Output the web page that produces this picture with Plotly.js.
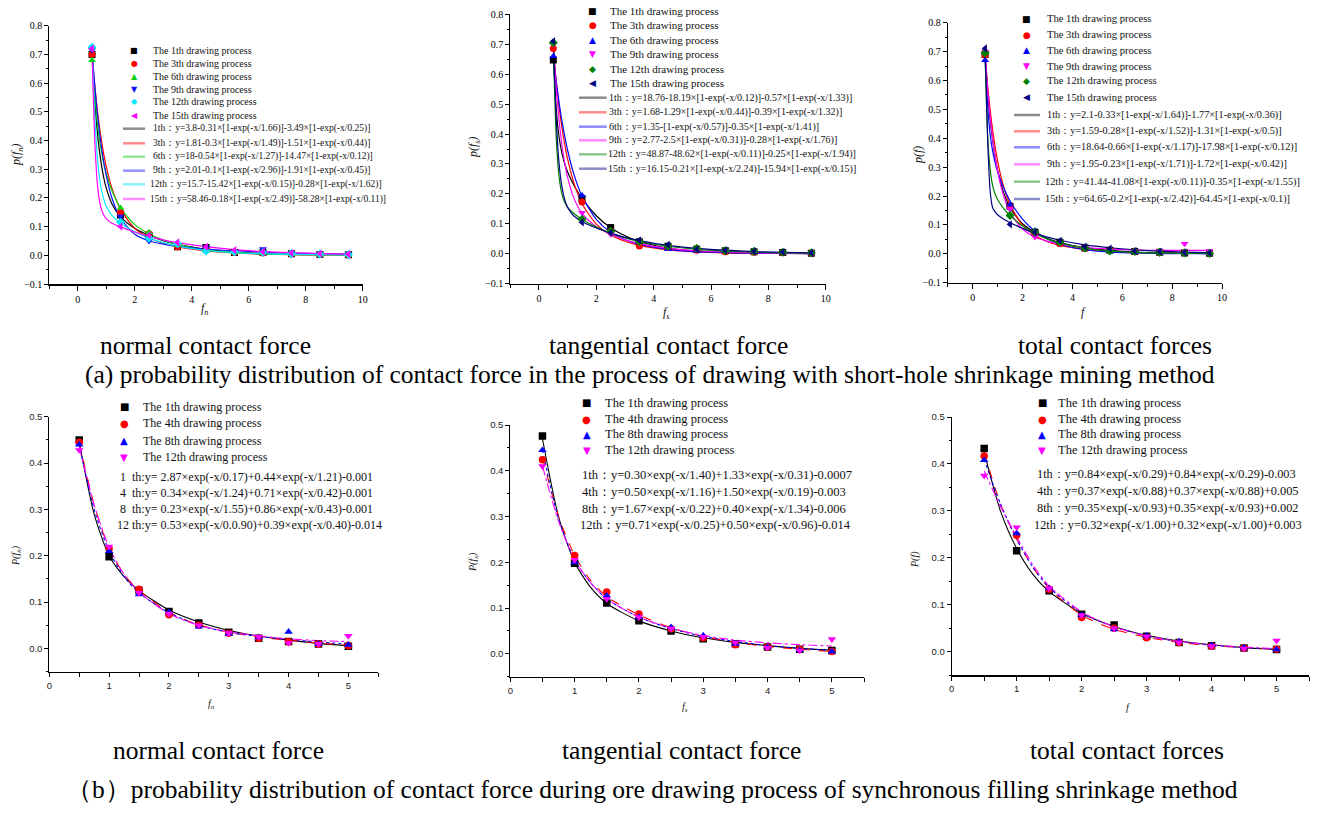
<!DOCTYPE html>
<html>
<head>
<meta charset="utf-8">
<script src="https://cdn.plot.ly/plotly-3.0.1.min.js"></script>
<style>html,body{margin:0;padding:0;background:#fff;}#chart{width:1332px;height:814px;}</style>
</head>
<body>
<div id="chart"></div>
<script>
// ---------------- DATA ----------------
// (a) short-hole shrinkage mining method: x = contact force bins
const XA = [0.5,1.5,2.5,3.5,4.5,5.5,6.5,7.5,8.5,9.5];
const CXA = [0.5,0.6,0.7,0.8,0.9,1.0,1.2,1.5,2.0,2.5,3.0,3.5,4.5,5.5,6.5,7.5,8.5,9.5];
const LABELS_A = ["1th","3th","6th","9th","12th","15th"];

// normal contact force (a)
const NA_1  = [0.70,0.14,0.07,0.03,0.027,0.01,0.01,0.005,0.003,0.002];
const NA_3  = [0.70,0.15,0.075,0.03,0.02,0.01,0.008,0.005,0.003,0.002];
const NA_6  = [0.68,0.165,0.08,0.035,0.015,0.01,0.008,0.004,0.002,0.001];
const NA_9  = [0.715,0.135,0.05,0.035,0.025,0.012,0.022,0.006,0.004,0.003];
const NA_12 = [0.725,0.115,0.06,0.04,0.015,0.012,0.01,0.006,0.004,0.003];
const NA_15 = [0.72,0.10,0.07,0.045,0.03,0.018,0.012,0.008,0.006,0.004];
const NAF_1  = [0.702,0.533,0.416,0.334,0.276,0.234,0.179,0.134,0.094,0.069,0.051,0.038,0.021,0.011,0.006,0.003,0.002,0.001];
const NAF_3  = [0.699,0.587,0.495,0.420,0.359,0.309,0.233,0.160,0.094,0.061,0.042,0.029,0.015,0.008,0.004,0.002,0.001,0.001];
const NAF_6  = [0.68,0.55,0.45,0.38,0.325,0.285,0.225,0.165,0.107,0.075,0.053,0.038,0.019,0.010,0.005,0.003,0.002,0.001];
const NAF_9  = [0.713,0.585,0.482,0.399,0.332,0.278,0.199,0.129,0.073,0.050,0.039,0.031,0.022,0.016,0.011,0.008,0.006,0.004];
const NAF_12 = [0.725,0.476,0.327,0.245,0.199,0.171,0.139,0.112,0.082,0.060,0.044,0.032,0.017,0.009,0.005,0.003,0.002,0.001];
const NAF_15 = [0.72,0.391,0.236,0.171,0.142,0.127,0.112,0.099,0.081,0.066,0.054,0.044,0.030,0.020,0.013,0.009,0.006,0.004];
const NA_EQ = [
  "1th：y=3.8-0.31×[1-exp(-x/1.66)]-3.49×[1-exp(-x/0.25)]",
  "3th：y=1.81-0.3×[1-exp(-x/1.49)]-1.51×[1-exp(-x/0.44)]",
  "6th：y=18-0.54×[1-exp(-x/1.27)]-14.47×[1-exp(-x/0.12)]",
  "9th：y=2.01-0.1×[1-exp(-x/2.96)]-1.91×[1-exp(-x/0.45)]",
  "12th：y=15.7-15.42×[1-exp(-x/0.15)]-0.28×[1-exp(-x/1.62)]",
  "15th：y=58.46-0.18×[1-exp(-x/2.49)]-58.28×[1-exp(-x/0.11)]"];

// tangential contact force (a)
const TA_1  = [0.647,0.185,0.088,0.04,0.025,0.015,0.01,0.007,0.004,0.002];
const TA_3  = [0.686,0.173,0.075,0.026,0.02,0.012,0.007,0.005,0.003,0.002];
const TA_6  = [0.66,0.195,0.075,0.04,0.015,0.01,0.008,0.005,0.003,0.002];
const TA_9  = [0.70,0.137,0.065,0.035,0.02,0.012,0.008,0.005,0.004,0.003];
const TA_12 = [0.705,0.115,0.075,0.04,0.025,0.018,0.01,0.008,0.005,0.003];
const TA_15 = [0.71,0.105,0.07,0.045,0.03,0.015,0.012,0.008,0.006,0.003];
const TAF_1  = [0.66,0.486,0.390,0.336,0.300,0.273,0.232,0.185,0.127,0.087,0.060,0.041,0.019,0.009,0.004,0.002,0.001,0.001];
const TAF_3  = [0.681,0.578,0.492,0.422,0.364,0.316,0.242,0.168,0.099,0.063,0.042,0.028,0.013,0.006,0.003,0.001,0.001,0.000];
const TAF_6  = [0.661,0.578,0.506,0.444,0.391,0.345,0.271,0.193,0.115,0.072,0.047,0.032,0.015,0.007,0.004,0.002,0.001,0.000];
const TAF_9  = [0.70,0.555,0.447,0.364,0.302,0.255,0.19,0.135,0.09,0.065,0.047,0.034,0.018,0.010,0.006,0.003,0.002,0.001];
const TAF_12 = [0.705,0.391,0.258,0.199,0.171,0.155,0.136,0.115,0.089,0.069,0.053,0.041,0.025,0.015,0.009,0.005,0.003,0.002];
const TAF_15 = [0.71,0.453,0.303,0.224,0.180,0.155,0.128,0.108,0.086,0.069,0.055,0.044,0.028,0.018,0.012,0.007,0.005,0.003];
const TA_EQ = [
  "1th：y=18.76-18.19×[1-exp(-x/0.12)]-0.57×[1-exp(-x/1.33)]",
  "3th：y=1.68-1.29×[1-exp(-x/0.44)]-0.39×[1-exp(-x/1.32)]",
  "6th：y=1.35-[1-exp(-x/0.57)]-0.35×[1-exp(-x/1.41)]",
  "9th：y=2.77-2.5×[1-exp(-x/0.31)]-0.28×[1-exp(-x/1.76)]",
  "12th：y=48.87-48.62×[1-exp(-x/0.11)]-0.25×[1-exp(-x/1.94)]",
  "15th：y=16.15-0.21×[1-exp(-x/2.24)]-15.94×[1-exp(-x/0.15)]"];

// total contact forces (a)
const TT_1  = [0.69,0.165,0.075,0.04,0.02,0.012,0.008,0.005,0.003,0.002];
const TT_3  = [0.688,0.165,0.07,0.035,0.02,0.012,0.008,0.005,0.003,0.002];
const TT_6  = [0.67,0.17,0.08,0.04,0.02,0.01,0.006,0.004,0.002,0.001];
const TT_9  = [0.70,0.155,0.058,0.035,0.02,0.012,0.01,0.01,0.035,0.01];
const TT_12 = [0.695,0.133,0.075,0.04,0.02,0.01,0.008,0.005,0.003,0.001];
const TT_15 = [0.711,0.102,0.075,0.045,0.025,0.018,0.01,0.008,0.005,0.003];
const TTF_1  = [0.685,0.563,0.469,0.395,0.336,0.290,0.222,0.160,0.104,0.074,0.053,0.039,0.021,0.012,0.006,0.003,0.002,0.001];
const TTF_3  = [0.683,0.583,0.500,0.430,0.372,0.322,0.246,0.170,0.099,0.063,0.042,0.029,0.015,0.008,0.004,0.002,0.001,0.001];
const TTF_6  = [0.67,0.516,0.415,0.356,0.316,0.285,0.237,0.183,0.120,0.078,0.051,0.033,0.014,0.006,0.003,0.001,0.001,0.000];
const TTF_9  = [0.695,0.574,0.478,0.400,0.338,0.287,0.213,0.144,0.086,0.058,0.043,0.033,0.022,0.016,0.013,0.012,0.012,0.012];
const TTF_12 = [0.69,0.413,0.294,0.237,0.207,0.188,0.162,0.133,0.096,0.070,0.051,0.037,0.019,0.010,0.005,0.003,0.002,0.001];
const TTF_15 = [0.71,0.40,0.22,0.16,0.145,0.135,0.122,0.108,0.088,0.071,0.058,0.047,0.031,0.021,0.014,0.009,0.006,0.004];
const TT_EQ = [
  "1th：y=2.1-0.33×[1-exp(-x/1.64)]-1.77×[1-exp(-x/0.36)]",
  "3th：y=1.59-0.28×[1-exp(-x/1.52)]-1.31×[1-exp(-x/0.5)]",
  "6th：y=18.64-0.66×[1-exp(-x/1.17)]-17.98×[1-exp(-x/0.12)]",
  "9th：y=1.95-0.23×[1-exp(-x/1.71)]-1.72×[1-exp(-x/0.42)]",
  "12th：y=41.44-41.08×[1-exp(-x/0.11)]-0.35×[1-exp(-x/1.55)]",
  "15th：y=64.65-0.2×[1-exp(-x/2.42)]-64.45×[1-exp(-x/0.1)]"];

// (b) synchronous filling shrinkage method
const XB = [0.5,1.0,1.5,2.0,2.5,3.0,3.5,4.0,4.5,5.0];
const CXB = [0.5,0.75,1.0,1.25,1.5,2.0,2.5,3.0,3.5,4.0,4.5,5.0];
const LABELS_B = ["1th","4th","8th","12th"];

const NB_1  = [0.45,0.198,0.125,0.08,0.055,0.035,0.022,0.015,0.01,0.005];
const NB_4  = [0.445,0.215,0.128,0.073,0.05,0.033,0.022,0.015,0.01,0.006];
const NB_8  = [0.44,0.21,0.117,0.078,0.047,0.032,0.024,0.036,0.01,0.008];
const NB_12 = [0.428,0.22,0.12,0.075,0.05,0.033,0.025,0.012,0.01,0.027];
const NBF_1  = [0.445,0.29,0.20,0.155,0.125,0.083,0.057,0.039,0.027,0.018,0.011,0.006];
const NBF_4  = [0.445,0.31,0.215,0.16,0.125,0.078,0.051,0.035,0.025,0.018,0.012,0.007];
const NBF_8  = [0.44,0.30,0.21,0.155,0.12,0.077,0.05,0.035,0.026,0.02,0.014,0.01];
const NBF_12 = [0.435,0.31,0.218,0.16,0.122,0.075,0.05,0.036,0.027,0.021,0.017,0.015];
const NB_EQ = [
  "1\u00a0\u00a0th:y= 2.87×exp(-x/0.17)+0.44×exp(-x/1.21)-0.001",
  "4\u00a0\u00a0th:y= 0.34×exp(-x/1.24)+0.71×exp(-x/0.42)-0.001",
  "8\u00a0\u00a0th:y= 0.23×exp(-x/1.55)+0.86×exp(-x/0.43)-0.001",
  "12 th:y= 0.53×exp(-x/0.0.90)+0.39×exp(-x/0.40)-0.014"];

const SB_1  = [0.476,0.198,0.111,0.072,0.05,0.033,0.022,0.015,0.01,0.007];
const SB_4  = [0.424,0.215,0.135,0.087,0.055,0.035,0.02,0.015,0.01,0.005];
const SB_8  = [0.445,0.20,0.127,0.08,0.058,0.04,0.022,0.015,0.008,0.005];
const SB_12 = [0.41,0.205,0.12,0.08,0.055,0.037,0.025,0.013,0.007,0.032];
const SBF_1  = [0.47,0.30,0.20,0.145,0.11,0.072,0.05,0.035,0.025,0.018,0.012,0.008];
const SBF_4  = [0.43,0.30,0.215,0.16,0.125,0.085,0.057,0.038,0.025,0.016,0.01,0.005];
const SBF_8  = [0.445,0.295,0.205,0.155,0.12,0.08,0.055,0.038,0.027,0.018,0.012,0.007];
const SBF_12 = [0.41,0.29,0.205,0.155,0.12,0.08,0.056,0.04,0.03,0.024,0.02,0.017];
const SB_EQ = [
  "1th：y=0.30×exp(-x/1.40)+1.33×exp(-x/0.31)-0.0007",
  "4th：y=0.50×exp(-x/1.16)+1.50×exp(-x/0.19)-0.003",
  "8th：y=1.67×exp(-x/0.22)+0.40×exp(-x/1.34)-0.006",
  "12th：y=0.71×exp(-x/0.25)+0.50×exp(-x/0.96)-0.014"];

const FB_1  = [0.433,0.215,0.13,0.08,0.057,0.033,0.02,0.013,0.008,0.005];
const FB_4  = [0.417,0.248,0.133,0.073,0.05,0.03,0.02,0.012,0.008,0.006];
const FB_8  = [0.408,0.252,0.135,0.078,0.048,0.034,0.022,0.014,0.009,0.005];
const FB_12 = [0.375,0.265,0.135,0.078,0.05,0.033,0.02,0.012,0.007,0.024];
const FBF_1  = [0.425,0.30,0.22,0.165,0.128,0.082,0.054,0.035,0.023,0.015,0.009,0.005];
const FBF_4  = [0.425,0.315,0.24,0.18,0.135,0.078,0.048,0.031,0.02,0.013,0.009,0.006];
const FBF_8  = [0.41,0.315,0.24,0.18,0.137,0.083,0.053,0.034,0.022,0.014,0.009,0.006];
const FBF_12 = [0.385,0.31,0.245,0.185,0.14,0.085,0.053,0.034,0.022,0.015,0.01,0.007];
const FB_EQ = [
  "1th：y=0.84×exp(-x/0.29)+0.84×exp(-x/0.29)-0.003",
  "4th：y=0.37×exp(-x/0.88)+0.37×exp(-x/0.88)+0.005",
  "8th：y=0.35×exp(-x/0.93)+0.35×exp(-x/0.93)+0.002",
  "12th：y=0.32×exp(-x/1.00)+0.32×exp(-x/1.00)+0.003"];

// ---------------- STYLE ----------------
const W = 1332, H = 814;
const SERIF = "Liberation Serif, Times New Roman, serif";
const SANS = "Liberation Sans, Arial, sans-serif";
const SYMBOLS_A = ["square","circle","triangle-up","triangle-down","diamond","triangle-left"];
const GLYPHS_A = ["■","●","▲","▼","◆","◀"];
const COLORS_NA = ["#000000","#ff0000","#11d011","#1010ff","#00e8ff","#ff00ff"];
const COLORS_TA = ["#000000","#ff0000","#0000ff","#ff00ff","#008000","#000080"];
const COLORS_B = ["#000000","#ff0000","#0000ff","#ff00ff"];
const SYMBOLS_B = ["square","circle","triangle-up","triangle-down"];
const GLYPHS_B = ["■","●","▲","▼"];
const DASH_B = ["solid","dash","dot","dashdot"];

const px = v => v / W;
const py = v => 1 - v / H;

const traces = [];
function addPanel(ax, xs, sets, cx, fits, colors, symbols, dashes, lw, msize) {
  const xa = "x" + (ax === 1 ? "" : ax), ya = "y" + (ax === 1 ? "" : ax);
  fits.forEach((f, i) => traces.push({
    type: "scatter", mode: "lines", x: cx, y: f, xaxis: xa, yaxis: ya,
    line: {color: colors[i], width: lw, dash: dashes ? dashes[i] : "solid", shape: "spline", smoothing: 0.7},
    hoverinfo: "skip"
  }));
  sets.forEach((s, i) => traces.push({
    type: "scatter", mode: "markers", x: xs, y: s, xaxis: xa, yaxis: ya,
    marker: {color: colors[i], symbol: symbols[i], size: msize, line: {width: 0}}
  }));
}
addPanel(1, XA, [NA_1,NA_3,NA_6,NA_9,NA_12,NA_15], CXA, [NAF_1,NAF_3,NAF_6,NAF_9,NAF_12,NAF_15], COLORS_NA, SYMBOLS_A, null, 1.2, 7);
addPanel(2, XA, [TA_1,TA_3,TA_6,TA_9,TA_12,TA_15], CXA, [TAF_1,TAF_3,TAF_6,TAF_9,TAF_12,TAF_15], COLORS_TA, SYMBOLS_A, null, 1.2, 7);
addPanel(3, XA, [TT_1,TT_3,TT_6,TT_9,TT_12,TT_15], CXA, [TTF_1,TTF_3,TTF_6,TTF_9,TTF_12,TTF_15], COLORS_TA, SYMBOLS_A, null, 1.2, 7);
addPanel(4, XB, [NB_1,NB_4,NB_8,NB_12], CXB, [NBF_1,NBF_4,NBF_8,NBF_12], COLORS_B, SYMBOLS_B, DASH_B, 1.1, 7.5);
addPanel(5, XB, [SB_1,SB_4,SB_8,SB_12], CXB, [SBF_1,SBF_4,SBF_8,SBF_12], COLORS_B, SYMBOLS_B, DASH_B, 1.1, 7.5);
addPanel(6, XB, [FB_1,FB_4,FB_8,FB_12], CXB, [FBF_1,FBF_4,FBF_8,FBF_12], COLORS_B, SYMBOLS_B, DASH_B, 1.1, 7.5);

function axisBase(font) {
  return {ticks: "outside", ticklen: 4, tickwidth: 1, tickcolor: "#000",
    showline: true, linecolor: "#000", linewidth: 1, showgrid: false, zeroline: false,
    tickfont: font, fixedrange: true};
}
const TF_TOP = {family: SERIF, size: 10, color: "#000"};
const TF_BOT = {family: SANS, size: 9.5, color: "#222"};
function topX(x0, x1, anchor) {
  return Object.assign(axisBase(TF_TOP), {domain: [px(x0), px(x1)], range: [-1, 10], anchor,
    tickmode: "linear", tick0: 0, dtick: 2, ticklen: 5, linewidth: 1.5,
    minor: {tickmode: "linear", tick0: 0, dtick: 1, ticks: "outside", ticklen: 3, tickcolor: "#000"}});
}
function topY(yb, yt, anchor) {
  return Object.assign(axisBase(TF_TOP), {domain: [py(yb), py(yt)], range: [-0.1, 0.8], anchor,
    tickmode: "linear", tick0: 0, dtick: 0.1, tickformat: ".1f",
    minor: {tickmode: "linear", tick0: 0, dtick: 0.05, ticks: "outside", ticklen: 2, tickcolor: "#000"}});
}
function botX(x0, x1, anchor) {
  return Object.assign(axisBase(TF_BOT), {domain: [px(x0), px(x1)], range: [0, 5.5], anchor,
    tickmode: "linear", tick0: 0, dtick: 1, ticklen: 4, linewidth: 1.5,
    minor: {tickmode: "linear", tick0: 0, dtick: 0.5, ticks: "outside", ticklen: 4, tickcolor: "#000"}});
}
function botY(yb, yt, anchor) {
  return Object.assign(axisBase(TF_BOT), {domain: [py(yb), py(yt)], range: [-0.05, 0.5], anchor,
    tickmode: "linear", tick0: 0, dtick: 0.1, tickformat: ".1f",
    minor: {tickmode: "linear", tick0: 0, dtick: 0.05, ticks: "outside", ticklen: 2, tickcolor: "#000"}});
}

const annotations = [];
const shapes = [];
function txt(text, x, y, size, opts) {
  opts = opts || {};
  annotations.push({xref: "paper", yref: "paper", x: px(x), y: py(y), text, showarrow: false,
    xanchor: opts.xa || "left", yanchor: "middle", textangle: opts.angle || 0,
    borderpad: 0, borderwidth: 0,
    font: {family: opts.family || SERIF, size, color: opts.color || "#111", style: opts.italic ? "italic" : "normal"}});
}
function markerLegend(mx, tx, rows, glyphs, colors, labels, size, gsize) {
  rows.forEach((r, i) => {
    txt(glyphs[i], mx, r, gsize, {xa: "center", color: colors[i], family: "DejaVu Sans"});
    txt("The " + labels[i] + " drawing process", tx, r, size);
  });
}
function lineLegend(l0, l1, tx, rows, colors, eqs, size) {
  rows.forEach((r, i) => {
    shapes.push({type: "line", xref: "paper", yref: "paper", x0: px(l0), x1: px(l1), y0: py(r), y1: py(r),
      line: {color: colors[i], width: 2.5}, opacity: 0.45});
    txt(eqs[i], tx[i], r, size);
  });
}

// top-left legend
markerLegend(134.3, 152.7, [50.7,63.3,76.7,89,101.7,115], GLYPHS_A, COLORS_NA, LABELS_A, 10, 8);
lineLegend(123, 145, [152.7,152.7,152.7,152.7,150,150], [128.7,143.3,156.7,170.7,184.3,199], COLORS_NA, NA_EQ, 9.5);
// top-middle legend
markerLegend(592.7, 610, [11,25,40,54,69,83.3], GLYPHS_A, COLORS_TA, LABELS_A, 11, 9);
lineLegend(579, 606.7, [609.3,609.3,609.3,609.3,607.5,607.5], [97.7,112.3,126.7,140.3,154.3,168.7], COLORS_TA, TA_EQ, 10);
// top-right legend
markerLegend(1026.7, 1047.3, [19,34.7,50,66,81,97], GLYPHS_A, COLORS_TA, LABELS_A, 10.6, 9);
lineLegend(1014, 1040, [1046.7,1046.7,1046.7,1046.7,1045,1045], [115,131.3,147.3,164.3,181.7,199], COLORS_TA, TT_EQ, 10.3);
// bottom legends
markerLegend(124, 143.3, [406.7,423.3,440.7,457.3], GLYPHS_B, COLORS_B, LABELS_B, 12, 10);
NB_EQ.forEach((e, i) => txt(e, i === 3 ? 117.3 : 120, [476.7,492.7,508.7,524.7][i], 12));
markerLegend(586.7, 605, [402.7,419,434,450], GLYPHS_B, COLORS_B, LABELS_B, 12.5, 10);
SB_EQ.forEach((e, i) => txt(e, i === 3 ? 580 : 582.3, [475,491.7,508.7,525.3][i], 12.5));
markerLegend(1042.3, 1058, [402.7,419,434,450], GLYPHS_B, COLORS_B, LABELS_B, 12.5, 10);
FB_EQ.forEach((e, i) => txt(e, i === 3 ? 1034 : 1036.7, [474,490.7,507.7,524.7][i], 12.3));

// axis titles
const IT = {xa: "center", italic: true};
const ITV = {xa: "center", italic: true, angle: -90};
txt("p(f<sub>n</sub>)", 17, 155, 12, ITV);
txt("p(f<sub>s</sub>)", 474, 147, 12, ITV);
txt("p(f)", 918, 155, 12, ITV);
txt("f<sub>n</sub>", 205, 309, 12, IT);
txt("f<sub>s</sub>", 667, 313, 12, IT);
txt("f", 1083, 312, 12, IT);
txt("P(f<sub>n</sub>)", 16, 556, 10, ITV);
txt("P(f<sub>s</sub>)", 473, 562, 10, ITV);
txt("P(f)", 915, 560, 10, ITV);
txt("f<sub>n</sub>", 211, 704, 10, IT);
txt("f<sub>s</sub>", 685, 707, 10, IT);
txt("f", 1128, 707, 10, IT);

// captions
const CAP = {xa: "center", color: "#000"};
txt("normal contact force", 205, 345, 25.5, CAP);
txt("tangential contact force", 668, 345, 25.5, CAP);
txt("total contact forces", 1115, 345, 25.5, CAP);
txt("(a) probability distribution of contact force in the process of drawing with short-hole shrinkage mining method", 650, 374, 25.5, CAP);
txt("normal contact force", 218, 750, 25.5, CAP);
txt("tangential contact force", 681, 750, 25.5, CAP);
txt("total contact forces", 1127, 750, 25.5, CAP);
txt("（b）probability distribution of contact force during ore drawing process of synchronous filling shrinkage method", 652, 789, 25.5, CAP);

const layout = {
  width: W, height: H, margin: {l: 0, r: 0, t: 0, b: 0},
  paper_bgcolor: "#ffffff", plot_bgcolor: "rgba(0,0,0,0)", showlegend: false,
  xaxis:  topX(49.3, 362.7, "y"),   yaxis:  topY(284, 25.7, "x"),
  xaxis2: topX(510.3, 825.7, "y2"), yaxis2: topY(283.7, 14.3, "x2"),
  xaxis3: topX(947.7, 1222, "y3"),  yaxis3: topY(282.7, 22.7, "x3"),
  xaxis4: botX(49.3, 378.3, "y4"),  yaxis4: botY(671.7, 416.7, "x4"),
  xaxis5: botX(510.3, 864, "y5"),   yaxis5: botY(676.7, 425, "x5"),
  xaxis6: botX(951.7, 1309, "y6"),  yaxis6: botY(675.3, 417, "x6"),
  annotations, shapes
};
Plotly.newPlot("chart", traces, layout, {staticPlot: true, displayModeBar: false});
</script>
</body>
</html>
